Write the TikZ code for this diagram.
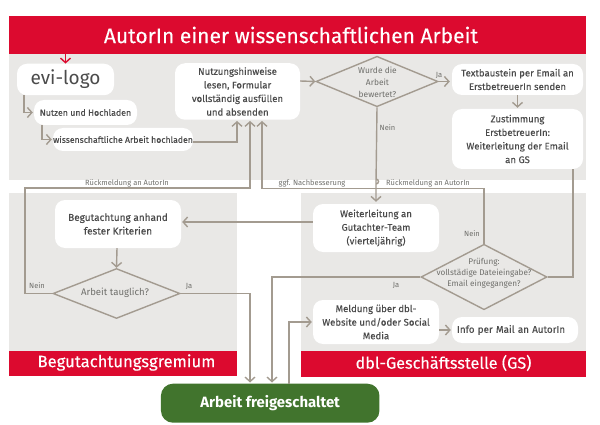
\documentclass[tikz,border=0pt]{standalone}
\usepackage{fontspec}
\setmainfont{Fira Sans}
\newfontfamily\medfont[FakeBold=0.2]{Fira Sans}
\usetikzlibrary{arrows.meta,shapes.geometric,calc}
\definecolor{bggray}{HTML}{E9E8E6}
\definecolor{bannerred}{HTML}{DC0A2F}
\definecolor{dblgreen}{HTML}{41742D}
\definecolor{linegray}{HTML}{A39B90}
\definecolor{boxtext}{HTML}{4B4B4B}
\definecolor{smalltext}{HTML}{6F6F6B}
\tikzset{
  zone/.style={fill=bggray,draw=none},
  banner/.style={fill=bannerred,inner sep=0pt,anchor=center},
  bannertext/.style={text=white,inner sep=0pt},
  whitebox/.style={fill=white,rounded corners=10pt,text=boxtext,align=center,inner sep=0pt,font=\medfont\fontsize{9.6}{13.6}\selectfont},
  decision/.style={diamond,draw=linegray,line width=1.4pt,inner sep=0pt,aspect=2.4},
  dectext/.style={text=smalltext,align=center,inner sep=0pt,font=\fontsize{8.4}{12}\selectfont},
  tiny/.style={text=smalltext,inner sep=0pt,font=\fontsize{7.5}{8}\selectfont},
  conn/.style={draw=linegray,line width=1.4pt,-{Straight Barb[length=4.5pt,width=10pt,line width=1.4pt]}},
  plain/.style={draw=linegray,line width=1.4pt},
}
\begin{document}
\begin{tikzpicture}[x=1pt,y=-1pt]
\useasboundingbox (0,0) rectangle (600,425);
\fill[zone] (9,54) rectangle (586,180);
\fill[zone] (9,193) rectangle (237,351);
\fill[zone] (301,193) rectangle (586,351);

\node[banner,minimum width=577pt,minimum height=38pt] (title) at (297.5,35) {};
\node[bannertext,font=\medfont\fontsize{21}{24}\selectfont] (titlet) at (291,35) {AutorIn einer wissenschaftlichen Arbeit};
\node[banner,minimum width=228pt,minimum height=25.5pt] (bg) at (123,363.5) {};
\node[bannertext,font=\medfont\fontsize{16.6}{18}\selectfont] (bgt) at (126.5,362.5) {Begutachtungsgremium};
\node[banner,minimum width=285pt,minimum height=25.5pt] (gs) at (443.5,364) {};
\node[bannertext,font=\medfont\fontsize{16.2}{18}\selectfont] (gst) at (443.5,363) {dbl-Geschäftsstelle (GS)};

\node[whitebox,minimum width=97pt,minimum height=31.5pt,font=\fontsize{19}{22}\selectfont] (evi) at (65.5,79.5) {evi-logo};
\node[whitebox,minimum width=103pt,minimum height=25pt,font=\medfont\fontsize{8.8}{12}\selectfont] (nutzen) at (85.5,112.5) {Nutzen und Hochladen};
\node[whitebox,minimum width=140pt,minimum height=23pt,font=\medfont\fontsize{8.7}{12}\selectfont] (wiss) at (123,139.5) {wissenschaftliche Arbeit hochladen};
\node[whitebox,minimum width=125pt,minimum height=56.5pt] (hinweis) at (237.5,91.5) {Nutzungshinweise\\lesen, Formular\\vollständig ausfüllen\\und absenden};
\node[decision,minimum width=122pt,minimum height=50.5pt] (dbew) at (377,81.5) {};
\node[dectext] (dbewt) at (377.5,82) {Wurde die\\Arbeit\\bewertet?};
\node[whitebox,minimum width=131pt,minimum height=31pt] (textb) at (517.5,79.5) {Textbaustein per Email an\\ErstbetreuerIn senden};
\node[whitebox,minimum width=131pt,minimum height=60pt] (zust) at (517.5,139) {Zustimmung\\ErstbetreuerIn:\\Weiterleitung der Email\\an GS};
\node[whitebox,minimum width=126pt,minimum height=48pt] (weiter) at (376,228) {Weiterleitung an\\Gutachter-Team\\(vierteljährig)};
\node[whitebox,minimum width=126pt,minimum height=48pt,font=\medfont\fontsize{10}{13.6}\selectfont] (begut) at (118,224) {Begutachtung anhand\\fester Kriterien};
\node[decision,minimum width=127pt,minimum height=50pt] (dtaug) at (116.5,293.5) {};
\node[dectext,font=\fontsize{9.6}{12}\selectfont] (dtaugt) at (115,293) {Arbeit tauglich?};
\node[decision,minimum width=126pt,minimum height=65.5pt] (dpruef) at (484,277) {};
\node[dectext,font=\fontsize{8.2}{11}\selectfont] (dpruefu) at (484,273) {Prüfung:\\vollstädige Dateieingabe?\\Email eingegangen?};
\node[whitebox,minimum width=126pt,minimum height=44pt] (meld) at (376,322) {Meldung über dbl-\\Website und/oder Social\\Media};
\node[whitebox,minimum width=126pt,minimum height=26pt,text width=116pt,align=left,font=\medfont\fontsize{9.8}{12}\selectfont] (info) at (515,330) {Info per Mail an AutorIn};
\node[fill=dblgreen,rounded corners=12pt,text=white,inner sep=0pt,minimum width=218.5pt,minimum height=39pt,font=\fontsize{14.9}{17}\bfseries\selectfont] (frei) at (270.2,403.2) {Arbeit freigeschaltet};

\node[tiny] (l1) at (127,183) {Rückmeldung an AutorIn};
\node[tiny] (l2) at (312,183) {ggf. Nachbesserung};
\node[tiny] (l3) at (428,183) {Rückmeldung an AutorIn};
\node[tiny] (l4) at (387.5,128) {Nein};
\node[tiny] (l5) at (439,75) {Ja};
\node[tiny] (l6) at (37,286) {Nein};
\node[tiny] (l7) at (189,286) {Ja};
\node[tiny] (l8) at (472,234) {Nein};
\node[tiny] (l9) at (396,285) {Ja};

% red entry arrow
\draw[conn,draw=bannerred] (title.south -| 65.5,0) -- (evi.north);
% top region
\draw[conn] (evi.south -| 24,0) |- ($(nutzen.west)+(-1,0)$);
\draw[conn] (nutzen.south -| 42,0) |- ($(wiss.west)+(-1,0)$);
\draw[conn] (wiss.east |- 0,142) -| ($(hinweis.south -| 237,0)+(0,1)$);
\draw[conn] (hinweis.east |- 0,81) -- (dbew.west);
\draw[conn] (dbew.east) -- ($(textb.west |- dbew.east)+(-2,0)$);
\draw[conn] (textb.south) -- ($(zust.north)+(0,-1)$);
% feedback lines
\draw[conn] (dtaug.west) -| (25,188) -| ($(hinweis.south -| 250,0)+(0,1)$);
\draw[conn] (dpruef.north) |- (262,188.5) -- ($(hinweis.south -| 262,0)+(0,1)$);
% decision down with line jump
\draw[conn] (dbew.south) -- (376,184) arc[start angle=-90,end angle=90,radius=2.5pt] -- ($(weiter.north)+(0,-2)$);
% right side
\draw[plain] (zust.south -| 573,0) |- (dpruef.east);
\draw[conn] (dpruef.west) -| ($(frei.north -| 272,0)+(0,-1)$);
\draw[conn] (weiter.west |- 0,222) -- ($(begut.east |- 0,222)+(1,0)$);
\draw[conn] (begut.south -| 117,0) -- (dtaug.north);
\draw[conn] (dtaug.east) -| ($(frei.north -| 250,0)+(0,-1)$);
\draw[conn] (frei.north -| 289,0) |- ($(meld.west)+(-1,0)$);
\draw[conn] (meld.east |- 0,330) -- ($(info.west)+(-1,0)$);
\end{tikzpicture}
\end{document}
